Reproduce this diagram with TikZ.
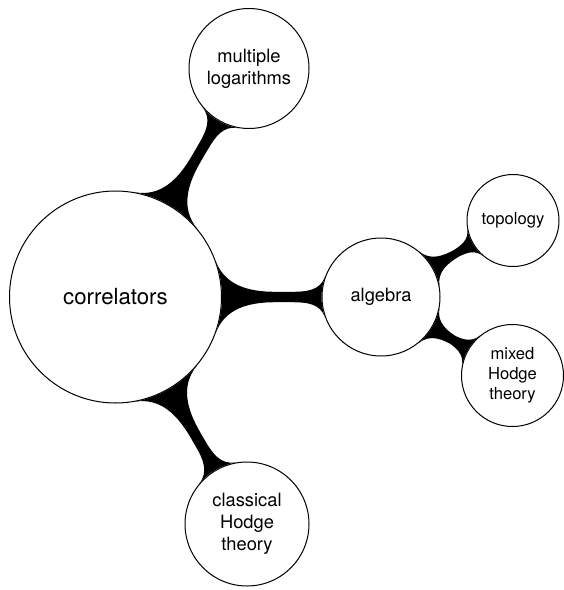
\documentclass[tikz,border=0pt]{standalone}
\usepackage{fontspec}
\setmainfont{TeX Gyre Heros}
\usetikzlibrary{mindmap}
\pgfdeclarelayer{background}
\pgfsetlayers{background,main}
\begin{document}
\begin{tikzpicture}[x=1pt,y=-1pt,
  bub/.style={circle, draw=black, line width=1pt, fill=white, align=center,
    inner sep=0pt, font=\fontsize{18.3}{21.7}\selectfont},
  small/.style={font=\fontsize{16.6}{20}\selectfont},
  bar/.style={circle connection bar, concept color=black, line width=#1}]
\useasboundingbox (0,0) rectangle (564,590);
\node[bub, minimum size=212pt, font=\fontsize{22.2}{26}\selectfont] (c) at (115.5,297) {correlators};
\node[bub, minimum size=120pt] (ml) at (249,68.5) {multiple\\logarithms};
\node[bub, minimum size=118pt] (alg) at (381,297) {algebra};
\node[bub, small, minimum size=92pt] (top) at (513,220.5) {topology};
\node[bub, small, minimum size=102pt] (mh) at (512.5,375.5) {mixed\\Hodge\\theory};
\node[bub, minimum size=124pt] (ch) at (247,524) {classical\\Hodge\\theory};
\begin{pgfonlayer}{background}
\path (c) to[bar=12pt] (ml);
\path (c) to[bar=12pt] (alg);
\path (c) to[bar=12pt] (ch);
\path (alg) to[bar=9.5pt] (top);
\path (alg) to[bar=9.5pt] (mh);
\end{pgfonlayer}
\end{tikzpicture}
\end{document}
